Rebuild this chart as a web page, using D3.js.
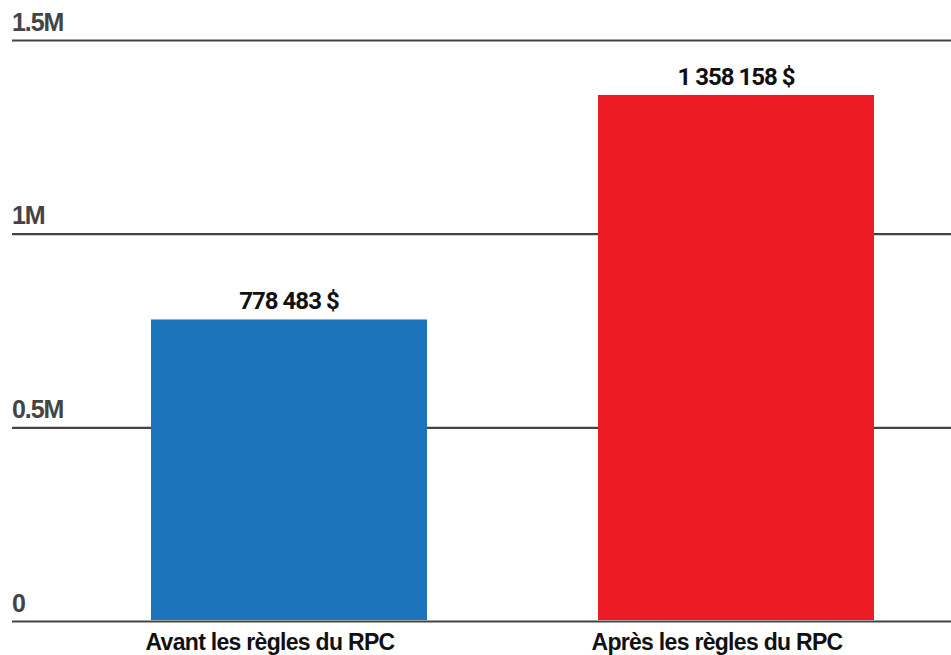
<!DOCTYPE html>
<html><head><meta charset="utf-8">
<script src="https://cdn.jsdelivr.net/npm/d3@7"></script>
<style>
body{margin:0;background:#fff;}
svg{display:block;font-family:Roboto, "Liberation Sans", sans-serif;}
</style></head>
<body><svg id="c" width="951" height="655"></svg>
<script>
const categories = ["Avant les règles du RPC", "Après les règles du RPC"];
const values = [778483, 1358158];
const valueLabels = ["778 483 $", "1 358 158 $"];
const tickValues = [0, 500000, 1000000, 1500000];
const tickLabels = ["0", "0.5M", "1M", "1.5M"];
const colors = ["#1c75bc", "#ed1c24"];

const svg = d3.select("#c");
const W = 951, H = 655;
const y = d3.scaleLinear().domain([0, 1500000]).range([621, 40]);
const x = d3.scaleBand().domain(categories).range([16.9, 1008.1]).paddingInner(0.3826).paddingOuter(0.3);

// gridlines + tick labels
const ga = svg.append("g").attr("transform", "translate(12,0)")
  .call(d3.axisRight(y).tickValues(tickValues).tickSize(W - 12)
    .tickFormat((d, i) => tickLabels[tickValues.indexOf(d)]));
ga.select(".domain").remove();
ga.selectAll(".tick line").attr("stroke", "#444").attr("stroke-width", 2.2);
ga.selectAll(".tick text").attr("x", 0).attr("dy", -10).attr("text-anchor", "start")
  .attr("fill", "#444").style("font-size", "25px").style("font-weight", 700)
  .style("letter-spacing", "-1.1px");

// bars
svg.append("g").selectAll("rect").data(values).join("rect")
  .attr("x", (d, i) => x(categories[i]))
  .attr("width", x.bandwidth())
  .attr("y", d => y(d))
  .attr("height", d => y(0) - 1 - y(d))
  .attr("fill", (d, i) => colors[i]);

// value labels
svg.append("g").selectAll("text").data(values).join("text")
  .attr("x", (d, i) => x(categories[i]) + x.bandwidth() / 2)
  .attr("y", d => y(d) - 10)
  .attr("text-anchor", "middle")
  .attr("fill", "#111")
  .style("font-size", "24px").style("font-weight", 700).style("letter-spacing", "-1px")
  .text((d, i) => valueLabels[i]);

// category labels
const gx = svg.append("g").attr("transform", "translate(0,650)")
  .call(d3.axisBottom(x).tickSize(0));
gx.select(".domain").remove();
gx.selectAll(".tick text").attr("y", 0).attr("dy", 0).attr("dx", -19)
  .attr("fill", "#111").style("font-size", "23px").style("font-weight", 700)
  .style("letter-spacing", "-0.7px");
</script></body></html>
